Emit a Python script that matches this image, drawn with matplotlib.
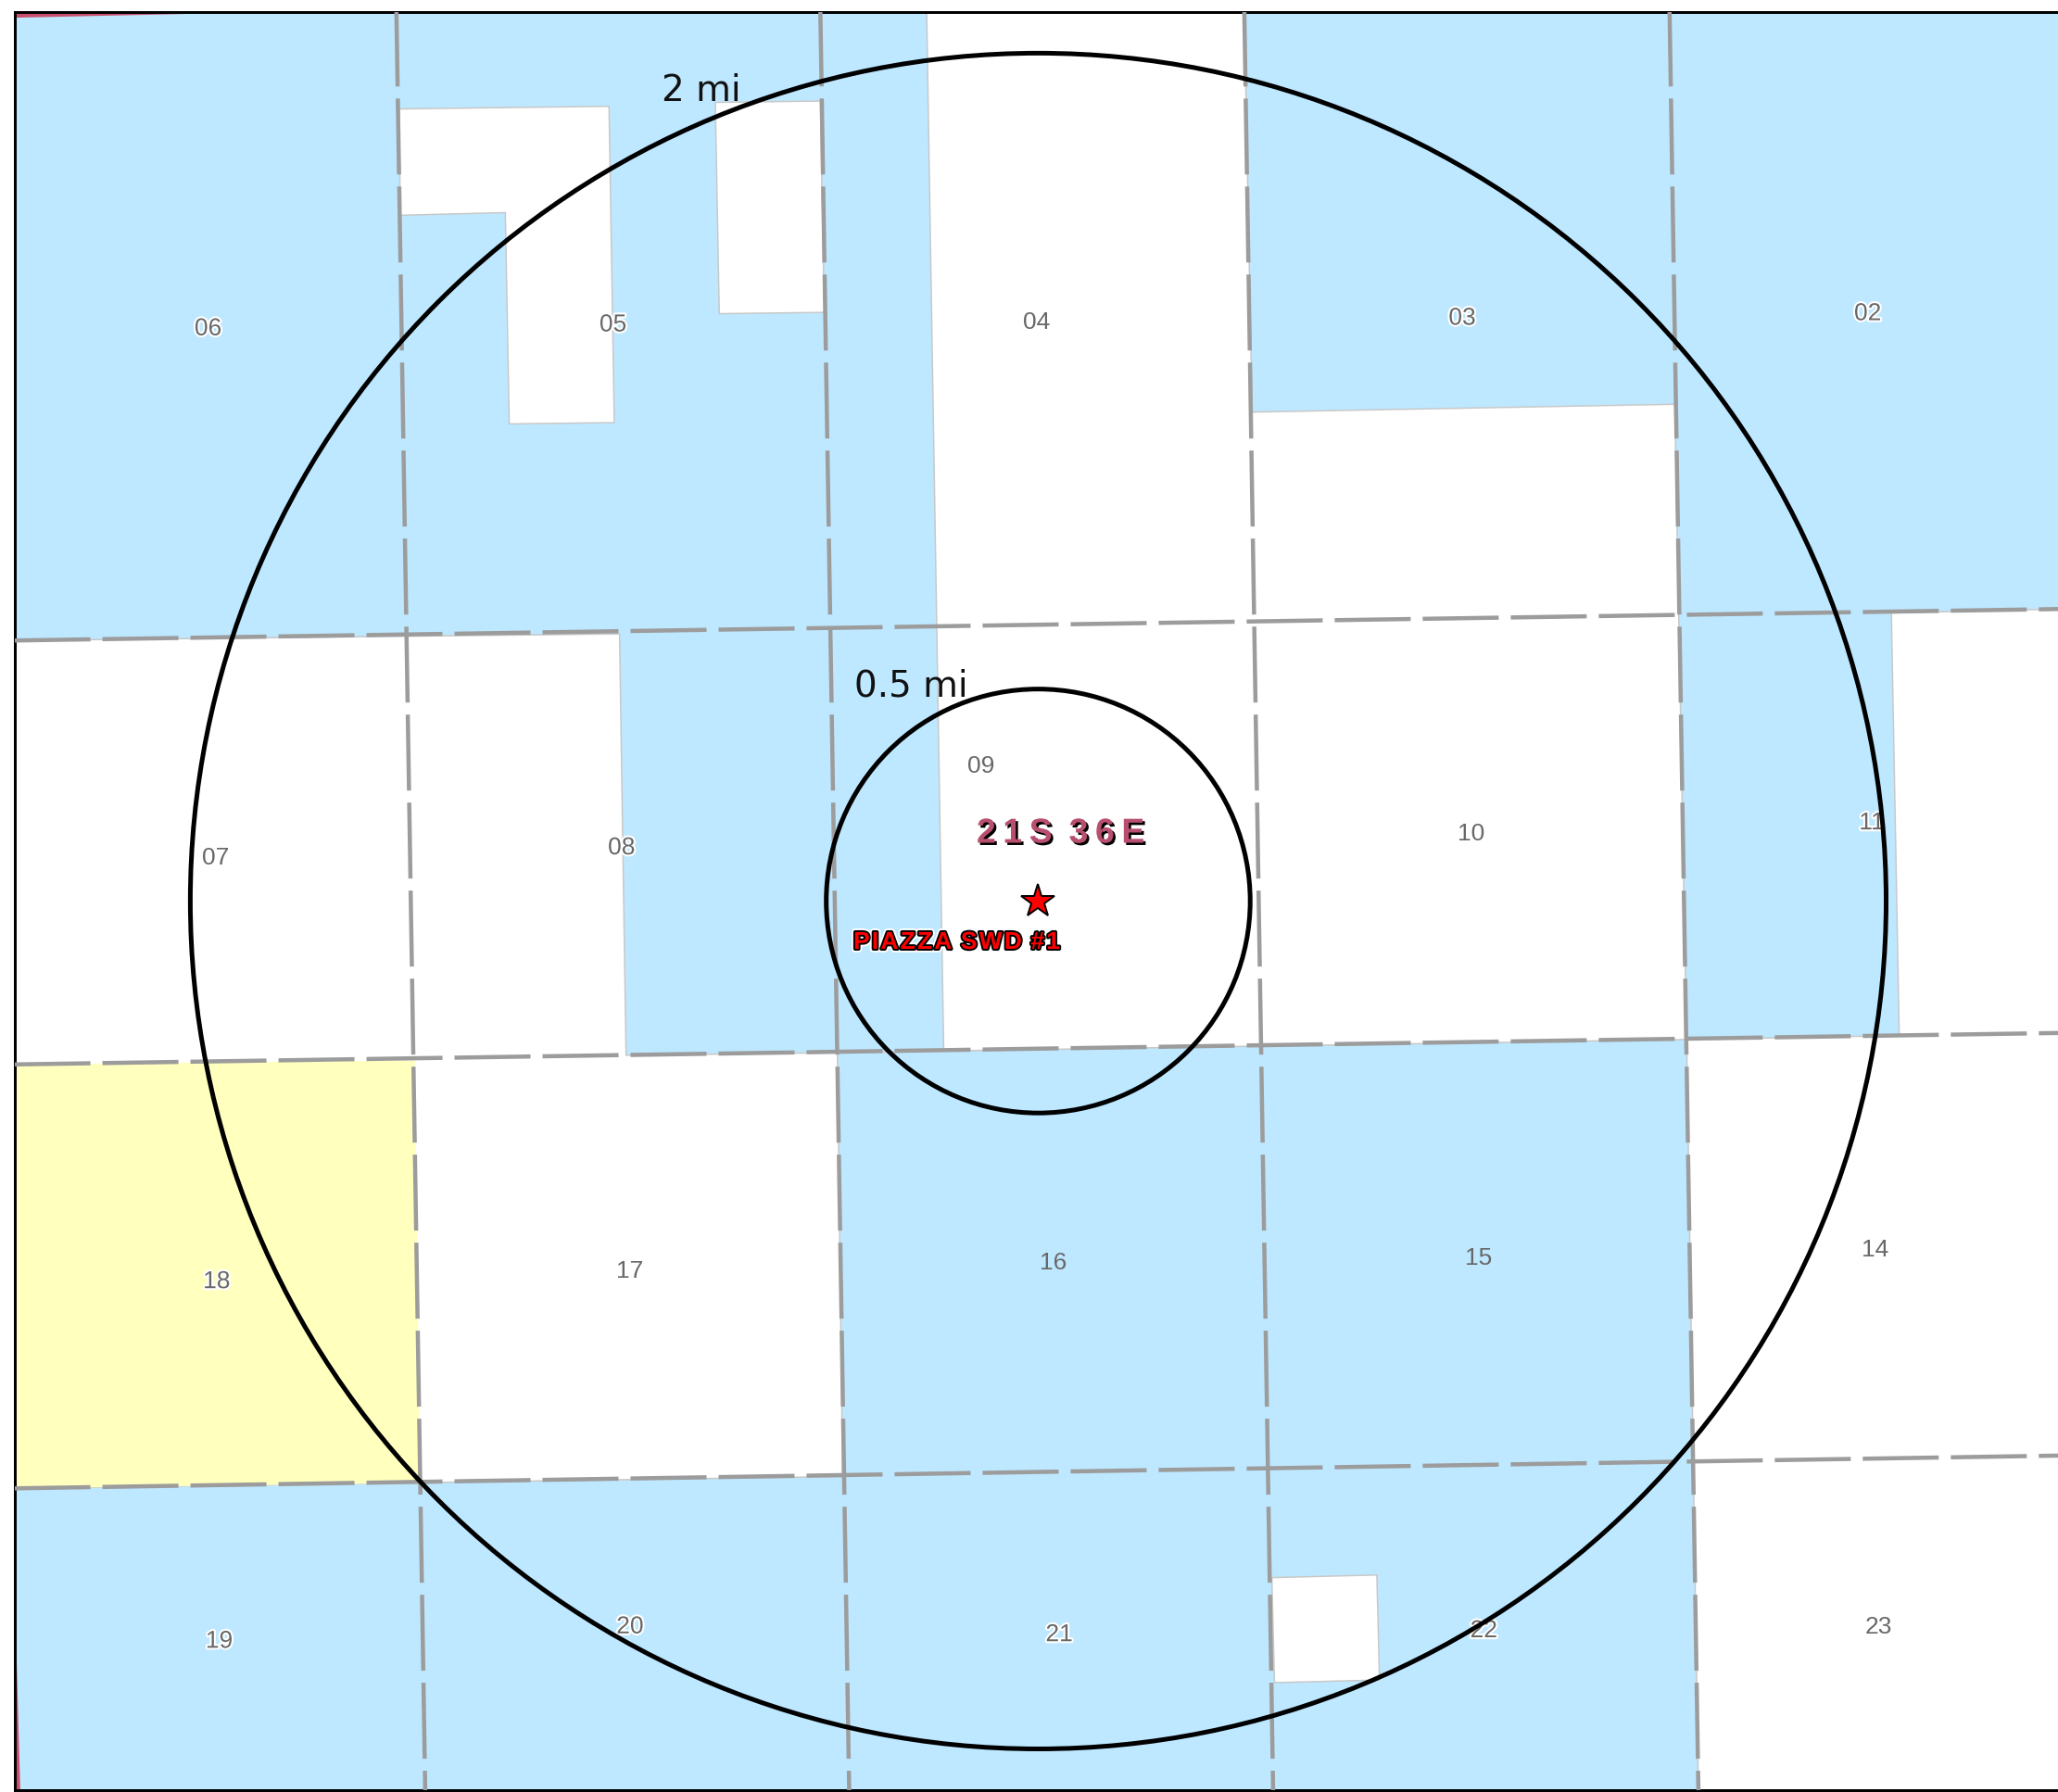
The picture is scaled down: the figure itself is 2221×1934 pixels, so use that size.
import matplotlib
matplotlib.use("Agg")
import matplotlib.pyplot as plt
import matplotlib.patheffects as pe
from matplotlib.patches import Circle, Polygon

# everything is in map units, 1 unit = 1/1.4165 image px
BLUE_AREAS = [
  [(11, 8), (706, 8), (719, 801), (477, 804), (472, 483), (11, 488)],
  [(948, 8), (1570, 8), (1570, 464), (1441, 467), (1447, 789), (1285, 792), (1276, 308), (954, 314)],
  [(638, 802), (1285, 792), (1294, 1366), (11, 1366), (11, 1134), (642, 1125)],
]
WHITE_AREAS = [
  [(304, 83), (464, 81), (468, 322), (388, 323), (385, 162), (305, 164)],
  [(545, 78), (625, 77), (628, 238), (548, 239)],
  [(969, 1202), (1049, 1200), (1051, 1280), (971, 1282)],
]
YELLOW_AREA = [(11, 811), (316, 808), (320, 1130), (11, 1134)]
RED_AREAS = [
  [(11, 8), (260, 8), (11, 13.5)],
  [(11, 1205), (15.5, 1366), (11, 1366)],
]

COLUMN_LINES = [
  [(302, 8), (324, 1366)],
  [(625, 8), (647, 1366)],
  [(948, 8), (970, 1366)],
  [(1272, 8), (1294, 1366)],
]
ROW_LINES = [
  [(11, 488), (1570, 464)],
  [(11, 811), (1570, 787)],
  [(11, 1134), (1570, 1109)],
]

SECTIONS = ["06", "05", "04", "03", "02", "07", "08", "09", "10", "11",
            "18", "17", "16", "15", "14", "19", "20", "21", "22", "23"]
SECTION_X = [158.5, 467, 790, 1114, 1423, 164, 473.5, 747.5, 1120.5, 1426,
             165, 479.5, 802.5, 1126.5, 1428.5, 167, 480, 807, 1130.5, 1431]
SECTION_Y = [250.5, 247.5, 245.5, 242.5, 239, 653.5, 646, 583.5, 635.5, 627,
             976.5, 968.5, 962.5, 958.5, 952.5, 1250.5, 1239.5, 1245.5, 1242.5, 1239.5]
ON_COLOUR = ["06", "05", "03", "02", "11", "18", "19", "20", "21", "22", "08"]

WELL = (791, 686.5)
RINGS = [161.5, 646]

plt.rcParams["font.family"] = ["Liberation Sans", "DejaVu Sans"]
plt.rcParams["lines.scale_dashes"] = False

W, H = 2221, 1934
K = 1.4165
px = 0.72  # points per pixel at dpi 100

fig = plt.figure(figsize=(W / 100, H / 100), dpi=100)
left, top, bottom, right = 16, 12.5, 1932, 2221
ax = fig.add_axes([left / W, 1 - bottom / H, (right - left) / W, (bottom - top) / H])
ax.set_xlim(left / K, right / K)
ax.set_ylim(bottom / K, top / K)
ax.set_xticks([])
ax.set_yticks([])
for s in ax.spines.values():
  s.set_linewidth(3 * px)
  s.set_color("black")
ax.spines["right"].set_visible(False)

for pts in BLUE_AREAS:
  ax.add_patch(Polygon(pts, fc="#bee8ff", ec="#c8c8c8", lw=1.5 * px, zorder=1))
for pts in WHITE_AREAS:
  ax.add_patch(Polygon(pts, fc="white", ec="#c8c8c8", lw=1.5 * px, zorder=2))
ax.add_patch(Polygon(YELLOW_AREA, fc="#ffffbe", ec="none", zorder=2))
for pts in RED_AREAS:
  ax.add_patch(Polygon(pts, fc="#c8506e", ec="none", zorder=2))

dash = (0, (82 * px, 13 * px))
for pts in COLUMN_LINES + ROW_LINES:
  ax.plot([p[0] for p in pts], [p[1] for p in pts],
          color="#9c9c9c", lw=4.5 * px, ls=dash, zorder=3,
          dash_capstyle="butt")

for r in RINGS:
  ax.add_patch(Circle(WELL, r, fc="none", ec="black", lw=5 * px, zorder=5))

for name, x, y in zip(SECTIONS, SECTION_X, SECTION_Y):
  t = ax.text(x, y, name, ha="center", va="center", fontsize=19,
              color="#686868", zorder=4)
  if name in ON_COLOUR:
    t.set_path_effects([pe.withStroke(linewidth=3, foreground="white")])

ax.text(534, 69, "2 mi", ha="center", va="center", fontsize=28,
        family="DejaVu Sans", color="#111111", zorder=6)
ax.text(694, 523, "0.5 mi", ha="center", va="center", fontsize=28,
        family="DejaVu Sans", color="#111111", zorder=6)

ax.text(808, 635, "2\u20091\u2009S \u20093\u20096\u2009E", ha="center", va="center",
        fontsize=27, weight="bold", color="#b84f6e", zorder=6,
        path_effects=[pe.withSimplePatchShadow(offset=(1.8, -1.8), shadow_rgbFace="black", alpha=1)])

ax.plot([WELL[0]], [WELL[1] + 0.5], marker="*", ms=27, mfc="red", mec="black", mew=1.4,
        ls="none", zorder=7)
ax.text(729, 718, "P\u200aI\u200aA\u200aZ\u200aZ\u200aA\u200a S\u200aW\u200aD\u200a #\u200a1",
        ha="center", va="center", fontsize=19,
        weight="bold", color="red", zorder=7,
        path_effects=[pe.Stroke(linewidth=5.5, foreground="white"),
                      pe.Stroke(linewidth=2.8, foreground="black"),
                      pe.Normal()])

fig.savefig("out.png", dpi=100, facecolor="white")
